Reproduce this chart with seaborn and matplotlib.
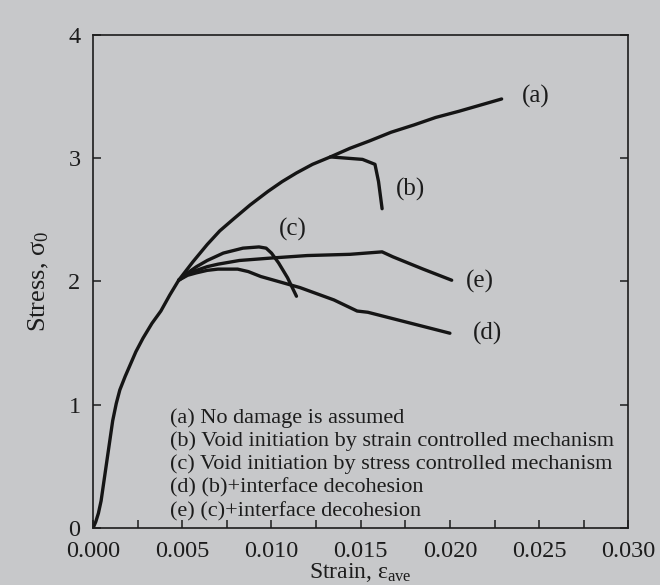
import pandas as pd
import numpy as np
import matplotlib
matplotlib.use('Agg')
import matplotlib.pyplot as plt
import seaborn as sns

# ---------------- data ----------------
strain_a = [0.0, 0.00015, 0.0003, 0.00045, 0.00056, 0.00068, 0.0008, 0.00095, 0.0011,
            0.0013, 0.0015, 0.0018, 0.0021, 0.0024, 0.0028, 0.0033, 0.0038, 0.0043,
            0.0048, 0.0056, 0.0064, 0.0071, 0.0079, 0.0088, 0.0098, 0.0106, 0.0114,
            0.0123, 0.0133, 0.0144, 0.0155, 0.0167, 0.0180, 0.0192, 0.0205, 0.0217, 0.0229]
stress_a = [0.0, 0.05, 0.12, 0.22, 0.33, 0.45, 0.57, 0.72, 0.87,
            1.01, 1.12, 1.23, 1.33, 1.43, 1.54, 1.66, 1.76, 1.89,
            2.01, 2.16, 2.30, 2.41, 2.51, 2.62, 2.73, 2.81, 2.88,
            2.95, 3.01, 3.08, 3.14, 3.21, 3.27, 3.33, 3.38, 3.43, 3.48]

strain_b = [0.0133, 0.0151, 0.0158, 0.0160, 0.0162]
stress_b = [3.01, 2.99, 2.95, 2.81, 2.59]

strain_c = [0.0048, 0.0052, 0.0058, 0.0064, 0.0073, 0.0084, 0.0093, 0.0097, 0.0100,
            0.0104, 0.0109, 0.0114]
stress_c = [2.01, 2.06, 2.12, 2.17, 2.23, 2.27, 2.28, 2.27, 2.23, 2.15, 2.03, 1.88]

strain_d = [0.0048, 0.0053, 0.0058, 0.0064, 0.0070, 0.0081, 0.0087, 0.0094, 0.0116,
            0.0135, 0.0148, 0.0154, 0.0200]
stress_d = [2.01, 2.05, 2.07, 2.09, 2.10, 2.10, 2.08, 2.04, 1.95, 1.85, 1.76, 1.75, 1.58]

strain_e = [0.0048, 0.0053, 0.0058, 0.0064, 0.0070, 0.0082, 0.0100, 0.0120, 0.0144,
            0.0162, 0.0168, 0.0185, 0.0201]
stress_e = [2.01, 2.06, 2.09, 2.12, 2.14, 2.17, 2.19, 2.21, 2.22, 2.24, 2.20, 2.10, 2.01]

curve_names = ['(a)', '(b)', '(c)', '(d)', '(e)']
label_x = [0.0248, 0.0178, 0.0112, 0.0221, 0.0217]
label_y = [3.50, 2.75, 2.42, 1.58, 2.00]

legend_lines = ['(a) No damage is assumed',
                '(b) Void initiation by strain controlled mechanism',
                '(c) Void initiation by stress controlled mechanism',
                '(d) (b)+interface decohesion',
                '(e) (c)+interface decohesion']

# ---------------- build a long table ----------------
frames = []
for name, xs, ys in zip(curve_names,
                        [strain_a, strain_b, strain_c, strain_d, strain_e],
                        [stress_a, stress_b, stress_c, stress_d, stress_e]):
    frames.append(pd.DataFrame({'strain': xs, 'stress': ys, 'curve': name}))
df = pd.concat(frames, ignore_index=True)

# ---------------- style ----------------
paper = '#c7c8ca'
ink = '#1c1c1c'
sns.set_style('ticks')
plt.rcParams['font.family'] = ['Liberation Serif', 'DejaVu Serif']
plt.rcParams['mathtext.fontset'] = 'custom'
plt.rcParams['mathtext.rm'] = 'Liberation Serif'
plt.rcParams['mathtext.it'] = 'Liberation Serif:italic'

fig = plt.figure(figsize=(6.6, 5.85), dpi=100, facecolor=paper)
ax = fig.add_axes([0.141, 0.0974, 0.811, 0.843])
ax.set_facecolor(paper)

for name in curve_names:
    sub = df[df['curve'] == name]
    sns.lineplot(data=sub, x='strain', y='stress', sort=False, estimator=None,
                 color='#151515', linewidth=2.4, ax=ax, legend=False)

for name, lx, ly in zip(curve_names, label_x, label_y):
    ax.text(lx, ly, name, fontsize=18, ha='center', va='center', color=ink)

for i, line in enumerate(legend_lines):
    ax.text(0.00432, 0.895 - i * 0.19, line, fontsize=16, ha='left', va='center',
            color=ink)

ax.set_xlim(0, 0.030)
ax.set_ylim(0, 4)
ax.set_xticks([0.0, 0.005, 0.010, 0.015, 0.020, 0.025, 0.030])
ax.set_xticklabels(['0.000', '0.005', '0.010', '0.015', '0.020', '0.025', '0.030'])
ax.set_xticks(np.arange(0.0025, 0.030, 0.005), minor=True)
ax.set_yticks([0, 1, 2, 3, 4])
ax.tick_params(axis='both', which='both', direction='in', labelsize=18,
               colors=ink, width=1.1, length=6, top=False, right=True)
ax.tick_params(axis='x', labelsize=17.5, pad=9)
ax.tick_params(axis='y', labelsize=17.5, pad=9)

for s in ax.spines.values():
    s.set_linewidth(1.2)
    s.set_color(ink)

ax.set_xlabel('Strain, $\\mathregular{\\varepsilon_{ave}}$', fontsize=17, color=ink)
ax.xaxis.set_label_coords(0.5, -0.1125)
ax.xaxis.label.set_va('bottom')
ax.set_ylabel('Stress, $\\mathregular{\\sigma_0}$', fontsize=19, color=ink)
ax.yaxis.set_label_coords(-0.078, 0.50)

fig.savefig('out.png', dpi=100, facecolor=paper)
